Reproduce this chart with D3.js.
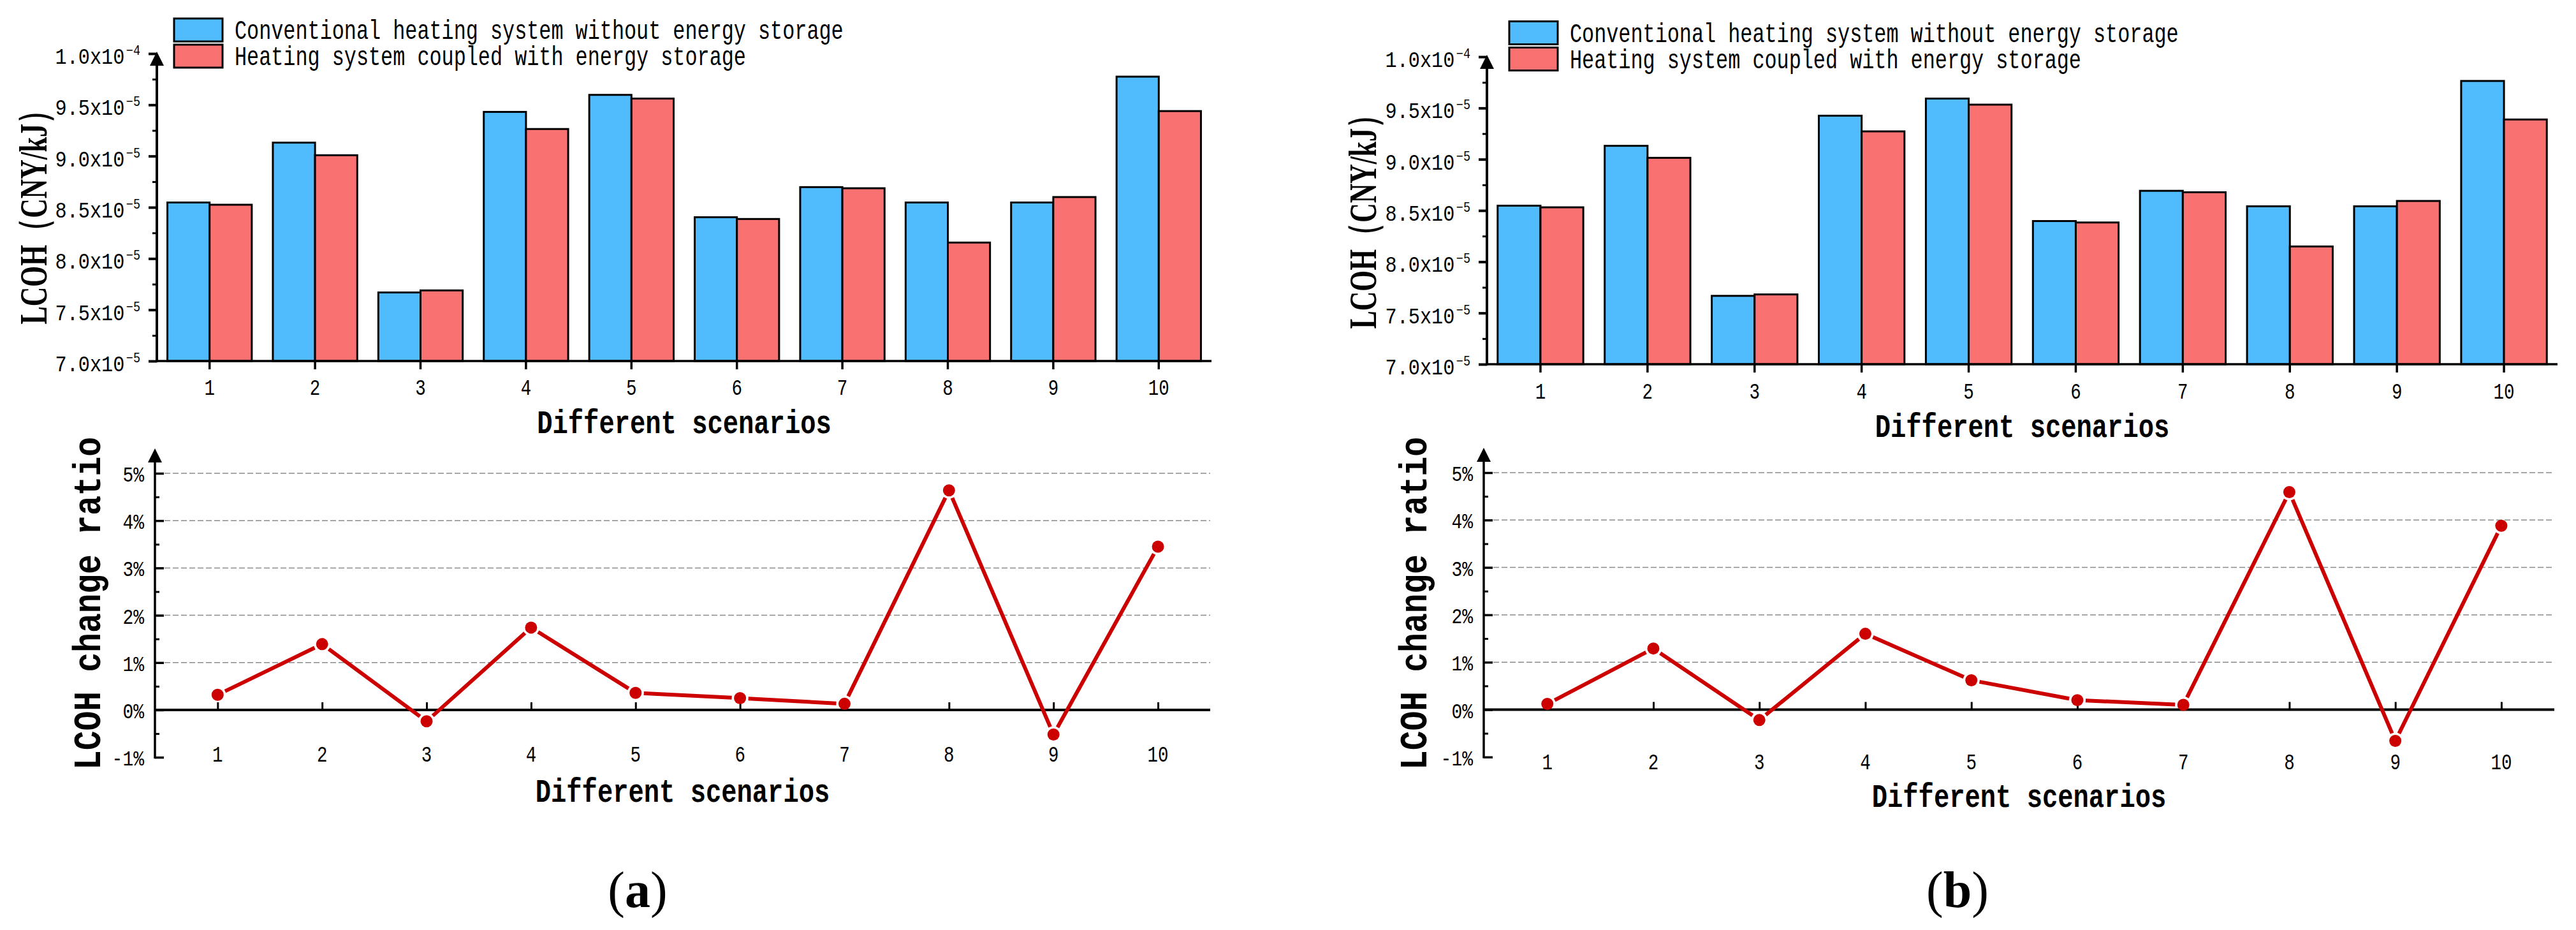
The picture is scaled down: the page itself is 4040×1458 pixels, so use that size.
<!DOCTYPE html>
<html><head><meta charset="utf-8">
<script src="https://cdn.jsdelivr.net/npm/d3@7"></script>
<style>body{margin:0;background:#fff}svg{display:block}</style>
</head><body>
<svg id="c" width="4040" height="1458"></svg>
<script>
// ---------- data ----------
const scenarios = ["1","2","3","4","5","6","7","8","9","10"];
const seriesNames = ["Conventional heating system without energy storage","Heating system coupled with energy storage"];
const lcohConvA = [8.547e-5,9.131e-5,7.669e-5,9.431e-5,9.597e-5,8.403e-5,8.697e-5,8.547e-5,8.547e-5,9.775e-5];
const lcohStorA = [8.525e-5,9.008e-5,7.689e-5,9.264e-5,9.561e-5,8.386e-5,8.686e-5,8.156e-5,8.600e-5,9.439e-5];
const lcohConvB = [8.547e-5,9.131e-5,7.667e-5,9.425e-5,9.592e-5,8.397e-5,8.692e-5,8.541e-5,8.541e-5,9.764e-5];
const lcohStorB = [8.531e-5,9.014e-5,7.681e-5,9.272e-5,9.533e-5,8.383e-5,8.678e-5,8.149e-5,8.593e-5,9.388e-5];
const ratioA = [0.32,1.39,-0.24,1.74,0.36,0.25,0.13,4.64,-0.52,3.45];
const ratioB = [0.12,1.29,-0.22,1.60,0.62,0.20,0.10,4.59,-0.66,3.88];
const lcohTicks = [7.0e-5,7.5e-5,8.0e-5,8.5e-5,9.0e-5,9.5e-5,1.0e-4];
const lcohTickMantissa = ["7.0","7.5","8.0","8.5","9.0","9.5","1.0"];
const lcohTickExp = ["\u22125","\u22125","\u22125","\u22125","\u22125","\u22125","\u22124"];
const lcohMinor = [7.25e-5,7.75e-5,8.25e-5,8.75e-5,9.25e-5,9.75e-5];
const ratioTicks = [-1,0,1,2,3,4,5];
const ratioTickLabels = ["-1%","0%","1%","2%","3%","4%","5%"];
const ratioMinor = [-0.5,0.5,1.5,2.5,3.5,4.5];
const ratioGrid = [1,2,3,4,5];
const yTitleTop = "LCOH\uFF08CNY/kJ\uFF09";
const yTitleBottom = "LCOH change ratio";
const xTitle = "Different scenarios";
const panelTags = ["a","b"];

// ---------- style ----------
const BLUE = "#50BCFE", RED = "#FA7171", LINE = "#CC0000";
const MONO = "'Liberation Mono','Courier New',monospace";
const SERIF = "'Liberation Serif','Times New Roman',serif";

const svg = d3.select("#c");
svg.append("rect").attr("width",4040).attr("height",1458).attr("fill","#fff");

// text squeezed horizontally to a target width through a scale transform
function txt(g, x, y, str, o) {
  const gg = g.append("g");
  const t = gg.append("text").attr("x", 0).attr("y", 0)
    .attr("text-anchor", o.anchor || "start")
    .attr("font-family", o.family || MONO).attr("font-size", o.size)
    .attr("font-weight", o.weight || "normal").attr("fill", "#000")
    .text(str);
  const nat = t.node().getComputedTextLength();
  const len = o.len != null ? o.len : o.adv * str.length;
  const k = nat > 0 ? len / nat : 1;
  gg.attr("transform", `translate(${x},${y})${o.rot ? " rotate(-90)" : ""} scale(${k},1)`);
  return t;
}

function drawPanel(P, conv, stor, ratio, tag) {
  const g = svg.append("g");
  // ===== upper bar chart =====
  const x = d3.scaleBand().domain(scenarios).range([P.ux0, P.ux1]).paddingInner(0.2).paddingOuter(0.1);
  const xs = d3.scaleBand().domain([0, 1]).range([0, x.bandwidth()]);
  const y = d3.scaleLinear().domain([7.0e-5, 1.0e-4]).range([P.uy0, P.uy1]);
  const series = [conv, stor];
  const colors = [BLUE, RED];
  series.forEach((vals, s) => {
    g.append("g").selectAll("rect").data(vals).join("rect")
      .attr("x", (d, i) => x(scenarios[i]) + xs(s))
      .attr("y", d => y(d))
      .attr("width", xs.bandwidth())
      .attr("height", d => y(7.0e-5) - y(d))
      .attr("fill", colors[s]).attr("stroke", "#000").attr("stroke-width", 3);
  });
  // x axis
  g.append("line").attr("x1", P.ux0 - 2).attr("x2", P.ux1).attr("y1", P.uy0).attr("y2", P.uy0)
    .attr("stroke", "#000").attr("stroke-width", 3.5);
  const xa = g.append("g").attr("transform", `translate(0,${P.uy0})`)
    .call(d3.axisBottom(x).tickSize(13).tickSizeOuter(0).tickFormat(""));
  xa.select(".domain").remove();
  xa.selectAll(".tick line").attr("stroke", "#000").attr("stroke-width", 3.5);
  scenarios.forEach(sc => {
    txt(g, x(sc) + x.bandwidth() / 2, P.upLabelBase, sc, {size: 36, adv: 16.5, anchor: "middle"});
  });
  // y axis
  const ya = g.append("g").attr("transform", `translate(${P.ux0},0)`)
    .call(d3.axisLeft(y).tickValues(lcohTicks).tickSize(13).tickSizeOuter(0).tickFormat(""));
  ya.select(".domain").remove();
  ya.selectAll(".tick line").attr("stroke", "#000").attr("stroke-width", 4);
  const ym = g.append("g").attr("transform", `translate(${P.ux0},0)`)
    .call(d3.axisLeft(y).tickValues(lcohMinor).tickSize(7).tickSizeOuter(0).tickFormat(""));
  ym.select(".domain").remove();
  ym.selectAll(".tick line").attr("stroke", "#000").attr("stroke-width", 3);
  g.append("line").attr("x1", P.ux0).attr("x2", P.ux0).attr("y1", y(7.0e-5) + 2).attr("y2", y(1.0e-4) + 10)
    .attr("stroke", "#000").attr("stroke-width", 4);
  const ut = y(1.0e-4);
  g.append("path").attr("d", `M${P.ux0},${ut - 3}L${P.ux0 - 11},${ut + 19}L${P.ux0 + 11},${ut + 19}Z`).attr("fill", "#000");
  lcohTicks.forEach((t, i) => {
    const gg = g.append("g");
    const tt = gg.append("text").attr("x", 0).attr("y", 0).attr("text-anchor", "end")
      .attr("font-family", MONO).attr("font-size", 36).attr("fill", "#000");
    tt.append("tspan").text(lcohTickMantissa[i] + "x10");
    tt.append("tspan").attr("font-size", 22).attr("dy", -14).attr("dx", 3).text(lcohTickExp[i]);
    const nat = tt.node().getComputedTextLength();
    gg.attr("transform", `translate(${P.ux0 - 26},${y(t) + 16}) scale(${131 / nat},1)`);
  });
  // titles
  txt(g, (P.ux0 + P.ux1) / 2, P.upTitleBase, xTitle, {size: 52, adv: 24.3, anchor: "middle", weight: "bold"});
  txt(g, P.yTitleX, P.yTitleY, yTitleTop, {size: 62, len: 357, weight: "bold", family: SERIF, anchor: "middle", rot: true});
  // legend
  seriesNames.forEach((nm, s) => {
    const ly = P.legY + s * 41;
    g.append("rect").attr("x", P.legX).attr("y", ly).attr("width", 76).attr("height", 36)
      .attr("fill", colors[s]).attr("stroke", "#000").attr("stroke-width", 3);
    txt(g, P.legX + 95, ly + 32, nm, {size: 42, adv: 19.1});
  });

  // ===== lower line chart =====
  const xl = d3.scaleLinear().domain([0.4, 10.5]).range([P.lx0, P.lx1]);
  const yl = d3.scaleLinear().domain([-1, 5]).range([P.ly0, P.ly1]);
  g.append("g").selectAll("line").data(ratioGrid).join("line")
    .attr("x1", P.lx0 + 2).attr("x2", P.lx1).attr("y1", d => yl(d)).attr("y2", d => yl(d))
    .attr("stroke", "#8a8a8a").attr("stroke-width", 1.5).attr("stroke-dasharray", "9,4");
  g.append("line").attr("x1", P.lx0).attr("x2", P.lx1).attr("y1", yl(0)).attr("y2", yl(0))
    .attr("stroke", "#000").attr("stroke-width", 4);
  const idx = scenarios.map((s, i) => i + 1);
  const xt = g.append("g").attr("transform", `translate(0,${yl(0)})`)
    .call(d3.axisTop(xl).tickValues(idx).tickSize(12).tickSizeOuter(0).tickFormat(""));
  xt.select(".domain").remove();
  xt.selectAll(".tick line").attr("stroke", "#000").attr("stroke-width", 3);
  scenarios.forEach((sc, i) => {
    txt(g, xl(i + 1), P.lowLabelBase, sc, {size: 36, adv: 16.5, anchor: "middle"});
  });
  const yr = g.append("g").attr("transform", `translate(${P.lx0},0)`)
    .call(d3.axisRight(yl).tickValues(ratioTicks).tickSize(14).tickSizeOuter(0).tickFormat(""));
  yr.select(".domain").remove();
  yr.selectAll(".tick line").attr("stroke", "#000").attr("stroke-width", 3.5);
  const yrm = g.append("g").attr("transform", `translate(${P.lx0},0)`)
    .call(d3.axisRight(yl).tickValues(ratioMinor).tickSize(7).tickSizeOuter(0).tickFormat(""));
  yrm.select(".domain").remove();
  yrm.selectAll(".tick line").attr("stroke", "#000").attr("stroke-width", 3);
  const lt = yl(5) - 39;
  g.append("line").attr("x1", P.lx0).attr("x2", P.lx0).attr("y1", yl(-1) + 2).attr("y2", lt + 12)
    .attr("stroke", "#000").attr("stroke-width", 3.5);
  g.append("path").attr("d", `M${P.lx0},${lt}L${P.lx0 - 11},${lt + 22}L${P.lx0 + 11},${lt + 22}Z`).attr("fill", "#000");
  ratioTicks.forEach((t, i) => {
    txt(g, P.lx0 - 17, yl(t) + 13, ratioTickLabels[i], {size: 34, adv: 16.8, anchor: "end"});
  });
  // line with gaps at symbols
  const pts = ratio.map((v, i) => [xl(i + 1), yl(v)]);
  const gap = 13;
  for (let i = 0; i < pts.length - 1; i++) {
    const [x1, y1] = pts[i], [x2, y2] = pts[i + 1];
    const dx = x2 - x1, dy = y2 - y1, L = Math.hypot(dx, dy);
    const ux = dx / L, uy = dy / L;
    g.append("line").attr("x1", x1 + ux * gap).attr("y1", y1 + uy * gap)
      .attr("x2", x2 - ux * gap).attr("y2", y2 - uy * gap)
      .attr("stroke", LINE).attr("stroke-width", 6);
  }
  g.append("g").selectAll("circle").data(pts).join("circle")
    .attr("cx", d => d[0]).attr("cy", d => d[1]).attr("r", 9.5).attr("fill", LINE);
  txt(g, (P.lx0 + P.lx1) / 2, P.lowTitleBase, xTitle, {size: 52, adv: 24.3, anchor: "middle", weight: "bold"});
  txt(g, P.lowYTitleX, P.lowYTitleY, yTitleBottom, {size: 62, len: 522, weight: "bold", anchor: "middle", rot: true});

  // panel tag
  const t = g.append("text").attr("x", P.tagX).attr("y", 1422).attr("text-anchor", "middle")
    .attr("font-family", SERIF).attr("font-size", 80).attr("fill", "#000");
  t.append("tspan").text("(");
  t.append("tspan").attr("font-weight", "bold").text(tag);
  t.append("tspan").text(")");
}

const PA = {ux0: 246, ux1: 1900, uy0: 566, uy1: 84, legX: 273, legY: 29,
  upLabelBase: 619, upTitleBase: 679, yTitleX: 73, yTitleY: 330,
  lx0: 243, lx1: 1898, ly0: 1187.2, ly1: 742, lowLabelBase: 1194, lowTitleBase: 1257,
  lowYTitleX: 157, lowYTitleY: 946, tagX: 1000};
const PB = {ux0: 2332, ux1: 4011, uy0: 571, uy1: 89, legX: 2367, legY: 33.5,
  upLabelBase: 625, upTitleBase: 685, yTitleX: 2158, yTitleY: 337,
  lx0: 2327, lx1: 4006, ly0: 1186.8, ly1: 741, lowLabelBase: 1206, lowTitleBase: 1265,
  lowYTitleX: 2237, lowYTitleY: 946, tagX: 3070};

drawPanel(PA, lcohConvA, lcohStorA, ratioA, panelTags[0]);
drawPanel(PB, lcohConvB, lcohStorB, ratioB, panelTags[1]);
</script>
</body></html>
